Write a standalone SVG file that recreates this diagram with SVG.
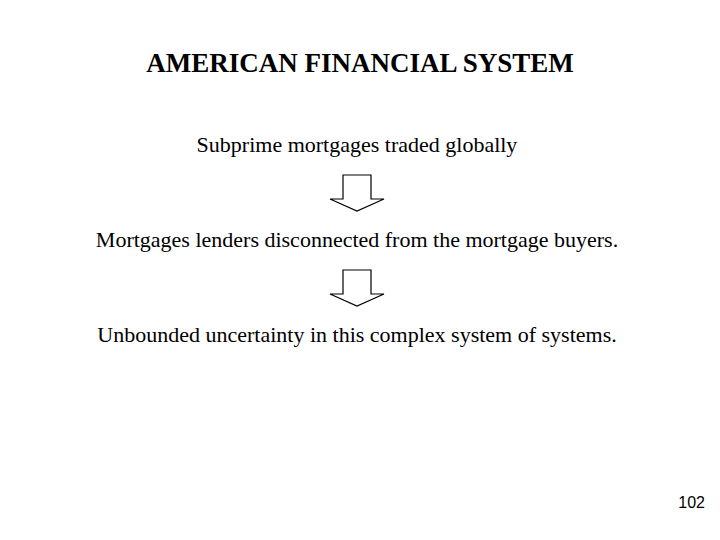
<svg xmlns="http://www.w3.org/2000/svg" width="720" height="540" viewBox="0 0 720 540">
<style>
.t{font-family:"Liberation Serif",serif;font-size:22px;fill:#000;text-anchor:middle}
.a{fill:#fff;stroke:#000;stroke-width:1.2}
</style>
<rect width="720" height="540" fill="#fff"/>
<g id="title"><text class="t" x="360" y="72" style="font-size:27px;font-weight:bold">AMERICAN FINANCIAL SYSTEM</text></g>
<g id="n1"><text class="t" x="357" y="152">Subprime mortgages traded globally</text></g>
<g id="n2"><text class="t" x="357" y="247">Mortgages lenders disconnected from the mortgage buyers.</text></g>
<g id="n3"><text class="t" x="357" y="342">Unbounded uncertainty in this complex system of systems.</text></g>
<g id="connectors">
<path class="a" d="M343,175 H371 V199 H384 L357,211 L330,199 H343 Z"/>
<path class="a" d="M343,270 H371 V294 H384 L357,306 L330,294 H343 Z"/>
</g>
<g id="page"><text x="705" y="508" style="font-family:'Liberation Sans',sans-serif;font-size:16px;text-anchor:end">102</text></g>
</svg>
